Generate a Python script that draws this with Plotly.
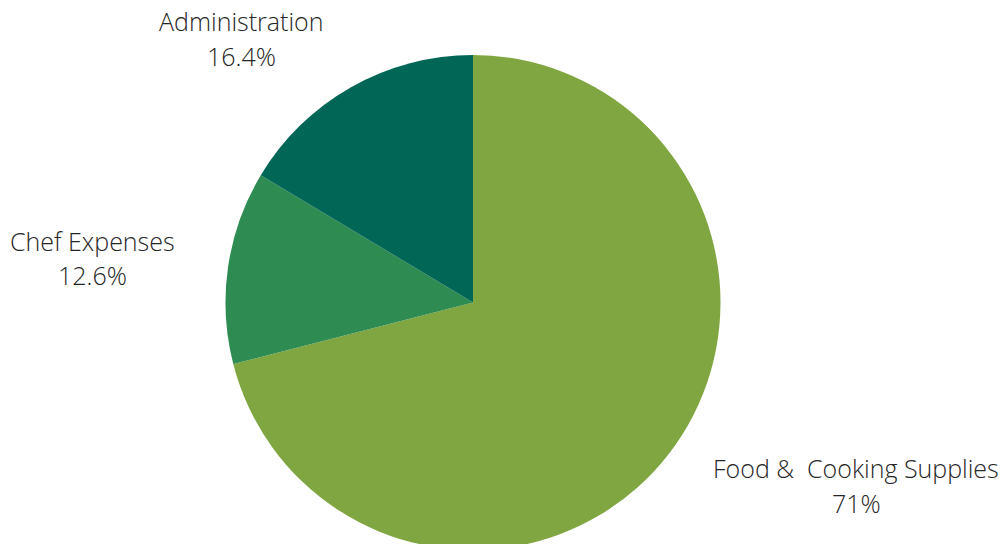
import plotly.graph_objects as go

# Data
categories = ["Food &\u00a0 Cooking Supplies", "Chef Expenses", "Administration"]
values = [71, 12.6, 16.4]
colors = ["#7FA640", "#2E8B52", "#006656"]

# Label placement (pixel centres in a 1003x550 page)
W, H = 1003, 550
label_pos = [(856, 468, 503), (92, 241, 275), (241, 21, 56)]

fig = go.Figure(go.Pie(
    labels=categories,
    values=values,
    sort=False,
    direction="clockwise",
    rotation=0,
    marker=dict(colors=colors, line=dict(width=0)),
    textinfo="none",
    hoverinfo="label+percent",
    domain=dict(x=[225.5 / W, 720.5 / W], y=[(H - 550) / H, (H - 55) / H]),
    showlegend=False,
))

font = dict(family="Open Sans", size=25, color="#262626", weight=300)
annotations = []
for cat, val, (x, y1, y2) in zip(categories, values, label_pos):
    pct = f"{val:g}%"
    annotations.append(dict(x=x / W, y=(H - y1) / H, xref="paper", yref="paper",
                            text=cat, showarrow=False, xanchor="center", yanchor="middle", font=font))
    annotations.append(dict(x=x / W, y=(H - y2) / H, xref="paper", yref="paper",
                            text=pct, showarrow=False, xanchor="center", yanchor="middle", font=font))

fig.update_layout(
    width=W, height=H,
    margin=dict(l=0, r=0, t=0, b=0),
    paper_bgcolor="white",
    plot_bgcolor="white",
    annotations=annotations,
)

fig.write_html("out.html", post_script="document.body.style.overflow='hidden';document.body.style.margin='0';")
